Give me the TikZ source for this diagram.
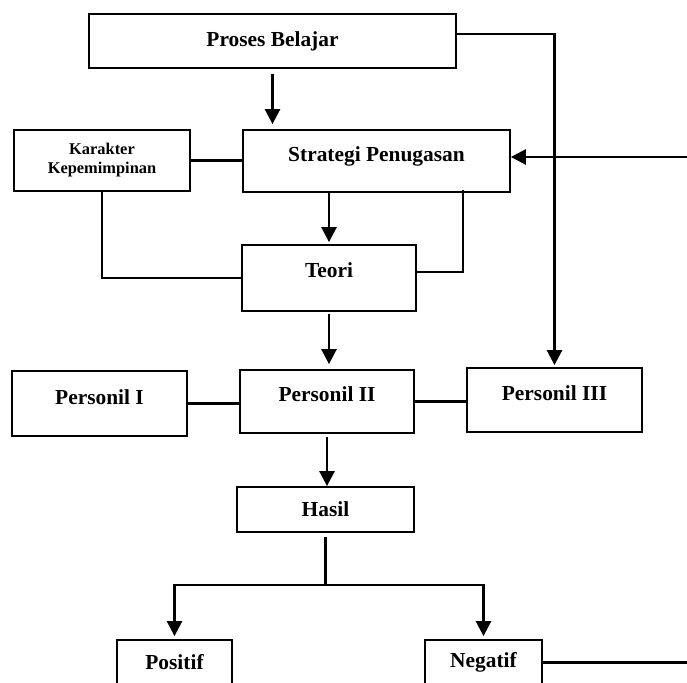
\documentclass[tikz,border=0pt]{standalone}
\usepackage{fontspec}
\setmainfont{Liberation Serif}
\usetikzlibrary{arrows.meta}

\begin{document}
\begin{tikzpicture}[x=0.5pt, y=-0.5pt,
    kotak/.style={draw, line width=0.9pt, inner sep=0pt, font=\fontsize{10.7}{12}\selectfont\bfseries},
    ukuran/.style 2 args={minimum width=#1*0.5pt, minimum height=#2*0.5pt}]
    \path[use as bounding box, clip] (0,0) rectangle (687,682);
    \node[kotak, ukuran={367}{54}] (proses) at (272.5,41) {Proses Belajar};
    \node[kotak, ukuran={176}{61}, align=center, font=\fontsize{8.2}{9.5}\selectfont\bfseries] (karakter) at (102,160.5) {Karakter\\Kepemimpinan};
    \node[kotak, ukuran={267}{62}, text depth=7pt] (strategi) at (376.5,161) {Strategi Penugasan};
    \node[kotak, ukuran={174}{66}, text depth=8pt] (teori) at (329,278) {Teori};
    \node[kotak, ukuran={175}{65}, text depth=6.5pt] (p1) at (99.5,403.5) {Personil I};
    \node[kotak, ukuran={174}{63}, text depth=7pt] (p2) at (327,401.5) {Personil II};
    \node[kotak, ukuran={175}{64}, text depth=7pt] (p3) at (554.5,400) {Personil III};
    \node[kotak, ukuran={177}{45}] (hasil) at (325.5,509.5) {Hasil};
    \node[kotak, ukuran={115}{45}] (positif) at (174.5,662.5) {Positif};
    \node[kotak, ukuran={117}{45}] (negatif) at (483.5,662.5) {Negatif};
\begin{scope}[line width=1.3pt, >={Triangle[length=7.5pt,width=7.5pt]}]
    \draw[->, shorten <=2.5pt, shorten >=2.5pt] (proses.south) -- (proses.south |- strategi.north);
    \draw (karakter.east) -- (karakter.east -| strategi.west);
    \draw[->] (negatif.east) -- ++(200,0) |- ([yshift=2pt]strategi.east);
    \draw[->, shorten >=1pt] ([yshift=3.5pt]proses.east) -| (p3.north);
    \draw[->, shorten >=1pt] (strategi.south -| teori.north) -- (teori.north);
    \draw (strategi.south east) ++(-48,-3) |- ([yshift=3pt]teori.east);
    \draw (karakter.south) |- (teori.west);
    \draw[->, shorten <=1pt, shorten >=2.5pt] (teori.south) -- (teori.south |- p2.north);
    \draw (p1.east) -- (p1.east -| p2.west);
    \draw (p2.east) -- (p2.east -| p3.west);
    \draw[->, shorten <=1.5pt] (p2.south) -- (p2.south |- hasil.north);
    \draw[->, shorten <=2pt, shorten >=1.5pt] (hasil.south) -- ++(0,52) -| (positif.north);
    \draw[->, shorten >=1.5pt] (hasil.south) ++(0,52) -| (negatif.north);
\end{scope}
\end{tikzpicture}
\end{document}
